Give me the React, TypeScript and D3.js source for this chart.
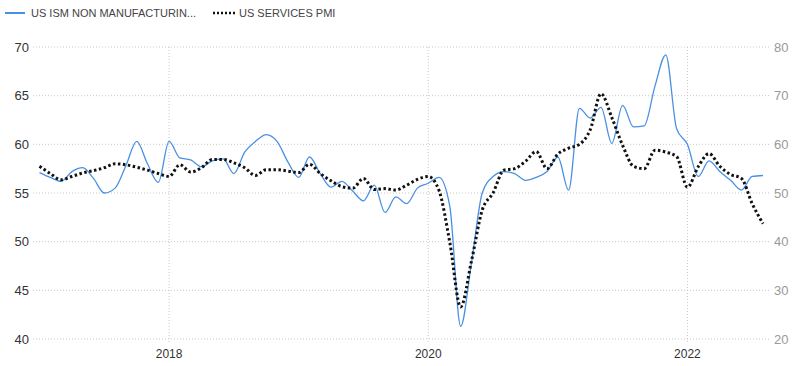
import React, { useEffect, useRef } from 'react';
import * as d3 from 'd3';

// monthly, Jan 2017 .. Aug 2022
const startYear = 2017;
const ismNonMfg = [
    57.1, 56.6, 56.2, 57.2, 57.6, 56.5, 55.0, 55.5, 57.8, 60.3, 58.0, 56.1,
    60.3, 58.6, 58.4, 57.7, 58.3, 58.5, 57.0, 59.2, 60.3, 61.0, 60.3, 58.2,
    56.6, 58.7, 57.0, 55.6, 56.2, 55.2, 54.2, 55.8, 53.0, 54.6, 53.9, 55.5,
    56.0, 56.6, 53.6, 41.3, 47.8, 55.0, 56.7, 57.2, 57.0, 56.3, 56.6, 57.2,
    58.7, 55.3, 63.7, 62.7, 63.8, 60.1, 64.0, 61.8, 61.9, 66.0, 69.2, 61.6,
    60.0, 56.7, 58.3, 57.2, 56.3, 55.3, 56.7, 56.8
];
const servicesPmi = [
    55.5, 54.0, 52.7, 53.4, 54.1, 54.6, 55.2, 56.0, 55.8, 55.3, 54.7, 54.0,
    53.4, 55.8, 54.3, 55.2, 56.9, 56.9, 56.2, 55.2, 53.6, 54.8, 54.8, 54.5,
    54.2, 55.9, 54.0, 52.5, 51.3, 51.0, 53.0, 50.7, 50.9, 50.6, 51.6, 52.8,
    53.4, 50.5, 39.8, 26.6, 36.0, 46.5, 50.0, 54.7, 55.0, 56.5, 58.5, 55.0,
    58.0, 59.2, 60.0, 63.0, 70.4, 65.5, 59.8, 55.5, 55.0, 58.8, 58.4, 57.5,
    51.2, 55.4, 58.1, 55.5, 53.8, 53.0, 47.8, 43.7
];
const leftTicks = [40, 45, 50, 55, 60, 65, 70];
const rightTicks = [20, 30, 40, 50, 60, 70, 80];
const yearTicks = [2018, 2020, 2022];
const legendNames = ['US ISM NON MANUFACTURIN...', 'US SERVICES PMI'];

const App: React.FC = () => {
    const svgRef = useRef<SVGSVGElement>(null);
    const width = 800;
    const height = 366;

    useEffect(() => {
        if (!svgRef.current) return;
        const svg = d3.select(svgRef.current);
        svg.selectAll('*').remove();

        const left = 39.5;
        const right = 763;
        const top = 47;
        const bottom = 339;
        const font = '"Liberation Sans", Arial, sans-serif';

        const x = d3.scaleLinear()
            .domain([startYear, startYear + 67 / 12])
            .range([left, right]);
        const yL = d3.scaleLinear().domain([40, 70]).range([bottom, top]);
        const yR = d3.scaleLinear().domain([20, 80]).range([bottom, top]);
        const t = (i: number) => startYear + i / 12;

        // horizontal grid
        svg.append('g')
            .selectAll('line')
            .data(leftTicks)
            .join('line')
            .attr('x1', 33)
            .attr('x2', 770)
            .attr('y1', d => yL(d))
            .attr('y2', d => yL(d))
            .attr('stroke', '#c8c8c8')
            .attr('stroke-width', 1)
            .attr('stroke-dasharray', '1,2');

        // vertical grid
        svg.append('g')
            .selectAll('line')
            .data(yearTicks)
            .join('line')
            .attr('x1', d => x(d))
            .attr('x2', d => x(d))
            .attr('y1', top)
            .attr('y2', bottom + 4)
            .attr('stroke', '#c8c8c8')
            .attr('stroke-width', 1)
            .attr('stroke-dasharray', '1,2');

        // left axis labels
        svg.append('g')
            .selectAll('text')
            .data(leftTicks)
            .join('text')
            .attr('x', 29)
            .attr('y', d => yL(d))
            .attr('dy', '0.35em')
            .attr('text-anchor', 'end')
            .style('font-family', font)
            .style('font-size', '13px')
            .style('fill', '#333')
            .text(d => d);

        // right axis labels
        svg.append('g')
            .selectAll('text')
            .data(rightTicks)
            .join('text')
            .attr('x', 774)
            .attr('y', d => yR(d))
            .attr('dy', '0.35em')
            .style('font-family', font)
            .style('font-size', '13px')
            .style('fill', '#999')
            .text(d => d);

        // year labels
        svg.append('g')
            .selectAll('text')
            .data(yearTicks)
            .join('text')
            .attr('x', d => x(d))
            .attr('y', 358)
            .attr('text-anchor', 'middle')
            .style('font-family', font)
            .style('font-size', '12px')
            .style('fill', '#333')
            .text(d => d);

        const lineL = d3.line<number>()
            .x((d, i) => x(t(i)))
            .y(d => yL(d))
            .curve(d3.curveMonotoneX);
        const lineR = d3.line<number>()
            .x((d, i) => x(t(i)))
            .y(d => yR(d))
            .curve(d3.curveMonotoneX);

        svg.append('path')
            .datum(ismNonMfg)
            .attr('fill', 'none')
            .attr('stroke', '#4a90e2')
            .attr('stroke-width', 1.3)
            .attr('d', lineL);

        svg.append('path')
            .datum(servicesPmi)
            .attr('fill', 'none')
            .attr('stroke', '#111')
            .attr('stroke-width', 3)
            .attr('stroke-dasharray', '2.5,2.5')
            .attr('d', lineR);

        // legend
        const legend = svg.append('g');
        legend.append('line')
            .attr('x1', 5).attr('x2', 25)
            .attr('y1', 13).attr('y2', 13)
            .attr('stroke', '#4a90e2')
            .attr('stroke-width', 2);
        legend.append('text')
            .attr('x', 31).attr('y', 17)
            .style('font-family', font)
            .style('font-size', '11px')
            .style('fill', '#444')
            .text(legendNames[0]);
        legend.append('line')
            .attr('x1', 213).attr('x2', 235)
            .attr('y1', 13).attr('y2', 13)
            .attr('stroke', '#111')
            .attr('stroke-width', 2.5)
            .attr('stroke-dasharray', '2,2');
        legend.append('text')
            .attr('x', 239).attr('y', 17)
            .style('font-family', font)
            .style('font-size', '11px')
            .style('fill', '#444')
            .text(legendNames[1]);
    }, []);

    return (
        <div style={{ position: 'absolute', left: 0, top: 0 }}>
            <svg ref={svgRef} width={width} height={height} style={{ display: 'block', background: '#fff' }} />
        </div>
    );
};

export default App;
